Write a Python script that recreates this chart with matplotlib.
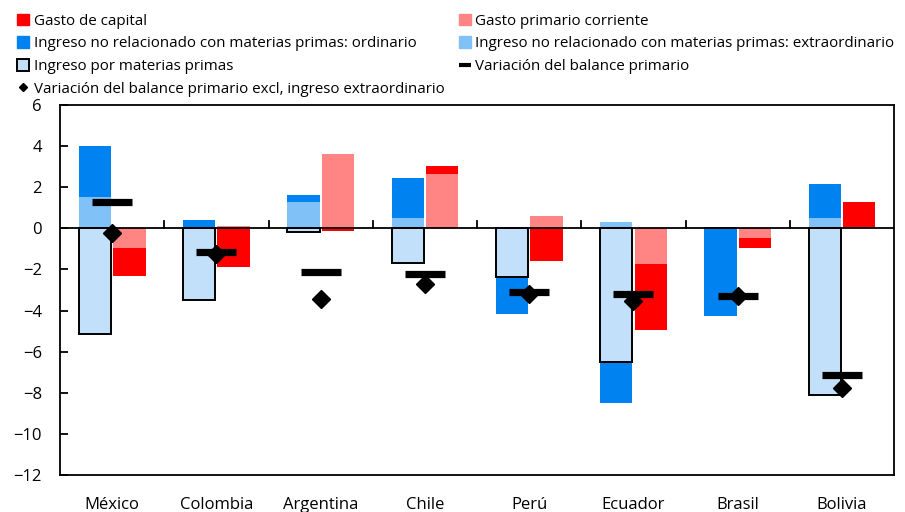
import matplotlib.pyplot as plt
import numpy as np
from matplotlib.lines import Line2D
from matplotlib.patches import Patch

plt.rcParams["font.family"] = ["Open Sans", "DejaVu Sans"]

# ── data ─────────────────────────────────────────────────────────
countries = ["México", "Colombia", "Argentina", "Chile",
             "Perú", "Ecuador", "Brasil", "Bolivia"]
commodity = [-5.15, -3.5, -0.2, -1.7, -2.35, -6.5, 0.0, -8.1]
ordinary = [2.5, 0.4, 0.3, 1.95, -1.8, -2.0, -4.25, 1.65]
extraordinary = [1.5, 0.0, 1.3, 0.5, 0.0, 0.3, 0.0, 0.5]
current_spend = [-0.95, 0.1, 3.6, 2.65, 0.6, -1.75, -0.45, 0.0]
capital_spend = [-1.35, -1.9, -0.15, 0.4, -1.6, -3.2, -0.5, 1.3]
balance = [1.3, -1.15, -2.15, -2.2, -3.1, -3.2, -3.3, -7.15]
balance_excl = [-0.25, -1.25, -3.45, -2.7, -3.2, -3.55, -3.3, -7.75]

C_RED = "#FF0000"
C_PINK = "#FF8585"
C_BLUE = "#0082F0"
C_LBLUE = "#80C2F8"
C_COMM = "#C2E0FA"

fig = plt.figure(figsize=(9.05, 5.12), dpi=100)
ax = fig.add_axes([0.0663, 0.0723, 0.9217, 0.7227])

x = np.arange(len(countries))
w = 0.31
off = 0.165


def stack(ax, xpos, series):
    pos = np.zeros(len(xpos))
    neg = np.zeros(len(xpos))
    for vals, kw in series:
        vals = np.asarray(vals, dtype=float)
        base = np.where(vals >= 0, pos, neg)
        ax.bar(xpos, vals, w, bottom=base, **kw)
        pos = pos + np.clip(vals, 0, None)
        neg = neg + np.clip(vals, None, 0)


# revenue bars (left)
stack(ax, x - off, [
    (commodity, dict(color=C_COMM, edgecolor="black", linewidth=1.4, zorder=3)),
    (extraordinary, dict(color=C_LBLUE, linewidth=0, zorder=2)),
    (ordinary, dict(color=C_BLUE, linewidth=0, zorder=2)),
])
# spending bars (right)
stack(ax, x + off, [
    (current_spend, dict(color=C_PINK, linewidth=0, zorder=2)),
    (capital_spend, dict(color=C_RED, linewidth=0, zorder=2)),
])

ax.plot(x, balance, ls="none", marker="_", markersize=29,
        markeredgewidth=5.2, color="black", zorder=5)
ax.plot(x, balance_excl, ls="none", marker="D", markersize=9.5,
        color="black", zorder=6)

ax.axhline(0, color="black", linewidth=1.3, zorder=4)
# category separators on the zero line
for b in x[:-1] + 0.5:
    ax.plot([b, b], [0, 0.35], color="black", linewidth=1.3, zorder=4)

ax.set_xlim(-0.5, len(countries) - 0.5)
ax.set_ylim(-12, 6)
ax.set_yticks(np.arange(-12, 7, 2))
ax.set_yticklabels([str(v).replace("-", "\u2212") for v in range(-12, 7, 2)])
ax.set_xticks(x)
ax.set_xticklabels(countries)
ax.tick_params(axis="x", length=0, pad=16, labelsize=12)
ax.tick_params(axis="y", direction="in", length=6, width=1.3, labelsize=12, pad=13)
for s in ax.spines.values():
    s.set_linewidth(1.3)

handles = [
    Patch(color=C_RED),
    Patch(color=C_BLUE),
    Patch(facecolor=C_COMM, edgecolor="black", linewidth=1.4),
    Line2D([], [], ls="none", marker="D", markersize=4, color="black"),
    Patch(color=C_PINK),
    Patch(color=C_LBLUE),
    Line2D([], [], ls="none", marker="_", markersize=8, markeredgewidth=3, color="black"),
]
labels = [
    "Gasto de capital",
    "Ingreso no relacionado con materias primas: ordinario",
    "Ingreso por materias primas",
    "Variación del balance primario excl, ingreso extraordinario",
    "Gasto primario corriente",
    "Ingreso no relacionado con materias primas: extraordinario",
    "Variación del balance primario",
]
fig.legend(handles, labels, ncol=2, loc="upper left",
           bbox_to_anchor=(0.012, 0.985), frameon=False, fontsize=10.9,
           handlelength=0.8, handleheight=0.8, handletextpad=0.3,
           labelspacing=0.5, columnspacing=0.95, borderaxespad=0)

fig.savefig("out.png", dpi=100)
